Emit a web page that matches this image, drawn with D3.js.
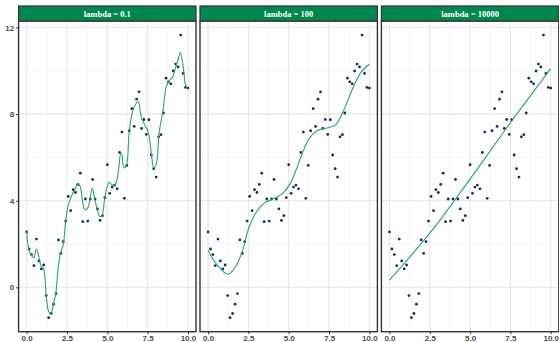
<!DOCTYPE html>
<html>
<head>
<meta charset="utf-8">
<script src="https://cdn.jsdelivr.net/npm/d3@7"></script>
<style>
  body { margin: 0; background: #fff; }
  svg { display: block; font-family: "Liberation Serif", "DejaVu Serif", serif; }
  .strip-text { fill: #fff; font-size: 8.5px; font-weight: bold; }
  .tick-label { fill: #4d4d4d; font-size: 8px; font-weight: bold; }
</style>
</head>
<body>
<div id="chart"></div>
<script>
// Observed points (same in every facet).
const xs = [0.00, 0.15, 0.30, 0.45, 0.61, 0.76, 0.91, 1.06, 1.21, 1.36, 1.52, 1.67, 1.82, 1.97, 2.12, 2.27,
  2.42, 2.58, 2.73, 2.88, 3.03, 3.18, 3.33, 3.48, 3.64, 3.79, 3.94, 4.09, 4.24, 4.39, 4.55, 4.70, 4.85,
  5.00, 5.15, 5.30, 5.45, 5.61, 5.76, 5.91, 6.06, 6.21, 6.36, 6.52, 6.67, 6.82, 6.97, 7.12, 7.27, 7.42,
  7.58, 7.73, 7.88, 8.03, 8.18, 8.33, 8.48, 8.64, 8.79, 8.94, 9.09, 9.24, 9.39, 9.55, 9.70, 9.85, 10.00];
const ys = [2.56, 1.77, 1.51, 1.00, 2.23, 1.22, 0.85, 1.03, -0.38, -1.40, -1.21, -0.78, -0.29, 2.19, 1.57, 2.11,
  3.06, 4.20, 3.54, 4.51, 4.38, 4.75, 5.27, 3.03, 4.08, 3.06, 4.08, 4.98, 4.08, 3.62, 3.09, 3.31, 4.14,
  5.66, 4.34, 4.63, 4.72, 4.55, 6.23, 7.17, 4.11, 5.63, 7.23, 8.25, 7.43, 8.69, 9.03, 7.34, 7.75, 7.06,
  7.74, 6.11, 5.48, 5.09, 6.95, 7.05, 8.05, 9.66, 9.49, 9.40, 9.99, 10.31, 10.18, 11.65, 9.88, 9.23, 9.20];

// Fitted smoothing curves.
const lambdas = ["0.1", "100", "10000"];
const fitX01 = [0, 0.14, 0.31, 0.45, 0.6, 0.76, 0.9, 1.05, 1.21, 1.36, 1.5, 1.65, 1.81, 1.96, 2.1, 2.27, 2.41,
  2.56, 2.73, 2.87, 3.01, 3.16, 3.32, 3.47, 3.61, 3.78, 3.92, 4.06, 4.23, 4.37, 4.52, 4.66, 4.83, 4.97, 5.11,
  5.28, 5.42, 5.57, 5.71, 5.84, 5.92, 6.02, 6.19, 6.35, 6.5, 6.64, 6.91, 7.12, 7.32, 7.53, 7.74, 7.88, 8.05,
  8.21, 8.46, 8.66, 8.87, 9.07, 9.22, 9.38, 9.53, 9.73, 9.85, 10.0];
const fitY01 = [2.58, 1.73, 1.46, 1.36, 1.77, 1.42, 0.97, 0.85, -0.34, -1.11, -1.23, -0.8, -0.26, 0.97, 1.59,
  1.97, 3.0, 3.74, 4.13, 4.36, 4.54, 4.79, 4.66, 3.97, 3.59, 3.66, 4.05, 4.59, 4.05, 3.62, 3.28, 3.3, 4.05,
  4.59, 4.85, 4.74, 4.7, 4.89, 5.5, 6.2, 6.1, 5.51, 5.66, 7.12, 7.89, 8.28, 8.58, 7.82, 7.51, 7.2, 6.12, 5.51,
  5.74, 7.12, 8.2, 9.28, 9.58, 9.74, 10.12, 10.5, 10.84, 10.04, 9.35, 9.15];
const fitX100 = [0, 0.5, 1.23, 1.7, 2.1, 2.55, 3.06, 3.5, 4.1, 4.7, 5.1, 5.5, 5.9, 6.3, 6.8, 7.3, 7.9, 8.3,
  8.7, 9.1, 9.5, 10.0];
const fitY100 = [1.71, 1.1, 0.6, 0.95, 1.6, 2.8, 3.55, 3.9, 4.1, 4.4, 4.8, 5.5, 6.3, 6.9, 7.25, 7.35, 7.5,
  8.0, 8.7, 9.4, 9.95, 10.3];
const fitX10000 = [0, 2.5, 5.0, 7.5, 10.0];
const fitY10000 = [0.33, 2.5, 5.0, 7.6, 10.1];
const fits = [[fitX01, fitY01], [fitX100, fitY100], [fitX10000, fitY10000]];

const xTicks = [0, 2.5, 5, 7.5, 10];
const xMinor = [1.25, 3.75, 6.25, 8.75];
const yTicks = [0, 4, 8, 12];
const yMinor = [2, 6, 10];

const W = 559, H = 342;
const panelW = 177.4, gap = 4, left0 = 18.6;
const stripTop = 6, stripH = 15, plotTop = 21, plotBottom = 331.7;

const STRIP = "#00874f", LINE = "#2ca26e", DOT = "#1b2a5e", BORDER = "#333333";

const svg = d3.select("#chart").append("svg").attr("width", W).attr("height", H);

const y = d3.scaleLinear([-2.05, 12.3], [plotBottom, plotTop]);

lambdas.forEach((lam, i) => {
  const px = left0 + i * (panelW + gap);
  const x = d3.scaleLinear([-0.5, 10.5], [px, px + panelW]);
  const g = svg.append("g");

  // grid
  g.selectAll(null).data(yMinor).join("line")
    .attr("x1", px).attr("x2", px + panelW).attr("y1", d => y(d)).attr("y2", d => y(d))
    .attr("stroke", "#f2f2f2").attr("stroke-width", 0.6);
  g.selectAll(null).data(xMinor).join("line")
    .attr("y1", plotTop).attr("y2", plotBottom).attr("x1", d => x(d)).attr("x2", d => x(d))
    .attr("stroke", "#f2f2f2").attr("stroke-width", 0.6);
  g.selectAll(null).data(yTicks).join("line")
    .attr("x1", px).attr("x2", px + panelW).attr("y1", d => y(d)).attr("y2", d => y(d))
    .attr("stroke", "#e6e6e6").attr("stroke-width", 1.1);
  g.selectAll(null).data(xTicks).join("line")
    .attr("y1", plotTop).attr("y2", plotBottom).attr("x1", d => x(d)).attr("x2", d => x(d))
    .attr("stroke", "#e6e6e6").attr("stroke-width", 1.1);

  // points
  g.selectAll(null).data(xs).join("circle")
    .attr("cx", d => x(d)).attr("cy", (d, k) => y(ys[k])).attr("r", 1.4).attr("fill", DOT);

  // fitted curve
  const [fx, fy] = fits[i];
  const line = d3.line().x(d => x(d)).y((d, k) => y(fy[k])).curve(d3.curveCatmullRom);
  g.append("path").datum(fx).attr("d", line).attr("fill", "none")
    .attr("stroke", LINE).attr("stroke-width", 1.1);

  // panel border
  g.append("rect").attr("x", px).attr("y", plotTop).attr("width", panelW).attr("height", plotBottom - plotTop)
    .attr("fill", "none").attr("stroke", BORDER).attr("stroke-width", 1.4);

  // strip
  g.append("rect").attr("x", px).attr("y", stripTop).attr("width", panelW).attr("height", stripH)
    .attr("fill", STRIP).attr("stroke", BORDER).attr("stroke-width", 1.2);
  g.append("text").attr("class", "strip-text").attr("x", px + panelW / 2).attr("y", stripTop + stripH / 2 + 3)
    .attr("text-anchor", "middle").text(`lambda = ${lam}`);

  // x axis
  const ax = g.append("g").attr("transform", `translate(0,${plotBottom})`)
    .call(d3.axisBottom(x).tickValues(xTicks).tickSize(2.5).tickPadding(1.5).tickFormat(d3.format(".1f")));
  ax.select(".domain").remove();
  ax.selectAll("line").attr("stroke", "#333");
  ax.selectAll("text").attr("class", "tick-label").attr("font-family", null).attr("font-size", null);

  if (i === 0) {
    const ay = g.append("g").attr("transform", `translate(${px},0)`)
      .call(d3.axisLeft(y).tickValues(yTicks).tickSize(2.5).tickPadding(2));
    ay.select(".domain").remove();
    ay.selectAll("line").attr("stroke", "#333");
    ay.selectAll("text").attr("class", "tick-label").attr("font-family", null).attr("font-size", null);
  }
});
</script>
</body>
</html>
